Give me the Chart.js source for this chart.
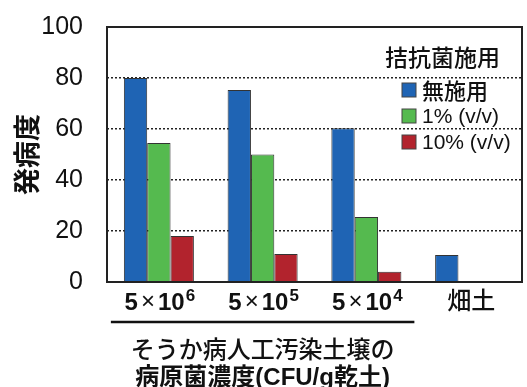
<!DOCTYPE html>
<html>
<head>
<meta charset="utf-8">
<script src="https://cdn.jsdelivr.net/npm/chart.js@4/dist/chart.umd.min.js"></script>
<style>
body { margin: 0; background: #fff; }
</style>
</head>
<body>
<canvas id="myChart" width="527" height="387"></canvas>
<script>
// data
var categories = ['5×10⁶', '5×10⁵', '5×10⁴', '畑土'];
var seriesNames = ['無施用', '1% (v/v)', '10% (v/v)'];
var noTreatment = [80, 75.3, 60.3, 10.6];
var onePercent = [54.5, 50, 25.5, 0];
var tenPercent = [18, 11, 4, 0.3];
var yTicks = [0, 20, 40, 60, 80, 100];
var legendTitle = '拮抗菌施用';
var yTitle = '発病度';
var xTitleLines = ['そうか病人工汚染土壌の', '病原菌濃度(CFU/g乾土)'];

var colors = ['#1f64b4', '#55ba4f', '#b2232d'];
var FONT = '"Liberation Sans", "Noto Sans CJK JP", sans-serif';
var CJK = '"Noto Sans CJK JP", "Liberation Sans", sans-serif';
var SUP = '⁰¹²³⁴⁵⁶⁷⁸⁹';

// category label, with the exponent drawn as a real superscript
function drawCategory(ctx, label, cx, base) {
	var m = label.match(/^(\d+)×(\d+)([⁰-⁹¹²³]+)$/);
	ctx.fillStyle = '#111';
	ctx.textBaseline = 'alphabetic';
	ctx.textAlign = 'left';
	if (!m) {
		ctx.font = '500 24px ' + CJK;
		ctx.textAlign = 'center';
		ctx.fillText(label, cx, base - 1);
		return;
	}
	var exp = m[3].split('').map(function(c) { return SUP.indexOf(c); }).join('');
	var parts = [
		{ t: m[1], f: 'bold 24px ' + FONT, dy: 0, gap: 3 },
		{ t: '×', f: '24px ' + FONT, dy: -1, gap: 3 },
		{ t: m[2], f: 'bold 24px ' + FONT, dy: 0, gap: 1 },
		{ t: exp, f: 'bold 17px ' + FONT, dy: -9, gap: 0 }
	];
	var w = 0;
	parts.forEach(function(p) {
		ctx.font = p.f;
		p.w = ctx.measureText(p.t).width;
		w += p.w + p.gap;
	});
	var x = cx - w / 2;
	parts.forEach(function(p) {
		ctx.font = p.f;
		ctx.fillText(p.t, x, base + p.dy);
		x += p.w + p.gap;
	});
}

var extras = {
	id: 'extras',
	afterDatasetsDraw: function(chart) {
		var ctx = chart.ctx;
		var a = chart.chartArea;
		var x = chart.scales.x;
		ctx.save();
		// plot frame
		ctx.strokeStyle = '#222';
		ctx.lineWidth = 2;
		ctx.strokeRect(a.left, a.top, a.right - a.left, a.bottom - a.top);

		// category labels
		categories.forEach(function(c, i) {
			drawCategory(ctx, c, x.getPixelForValue(i) + 1, a.bottom + 28);
		});

		// underline below the first three groups
		var l = x.getPixelForValue(0) - 48;
		var r = x.getPixelForValue(2) + 48;
		ctx.strokeStyle = '#111';
		ctx.lineWidth = 2.5;
		ctx.beginPath();
		ctx.moveTo(l, 322);
		ctx.lineTo(r, 322);
		ctx.stroke();

		// x title, two lines
		ctx.fillStyle = '#111';
		ctx.textAlign = 'center';
		ctx.textBaseline = 'middle';
		var cx = (l + r) / 2;
		ctx.font = '500 24px ' + CJK;
		ctx.fillText(xTitleLines[0], cx, 349);
		ctx.font = 'bold 24px ' + FONT;
		ctx.fillText(xTitleLines[1], cx, 378);

		// legend
		ctx.textAlign = 'left';
		ctx.font = '500 23px ' + CJK;
		ctx.fillText(legendTitle, a.right - 137, 57);
		for (var i = 0; i < seriesNames.length; i++) {
			var ry = 90 + i * 26;
			ctx.fillStyle = colors[i];
			ctx.fillRect(a.right - 120, ry - 7, 14, 14);
			ctx.strokeStyle = '#444';
			ctx.lineWidth = 1;
			ctx.strokeRect(a.right - 120, ry - 7, 14, 14);
			ctx.fillStyle = '#111';
			ctx.font = (i === 0 ? '500 22px ' + CJK : '21px ' + FONT);
			ctx.fillText(seriesNames[i], a.right - 100, ry + 1);
		}
		ctx.restore();
	}
};

var chart = new Chart(document.getElementById('myChart'), {
	type: 'bar',
	data: {
		labels: categories,
		datasets: [
			{ label: seriesNames[0], data: noTreatment, backgroundColor: colors[0] },
			{ label: seriesNames[1], data: onePercent, backgroundColor: colors[1] },
			{ label: seriesNames[2], data: tenPercent, backgroundColor: colors[2] }
		].map(function(d) {
			d.borderColor = '#333';
			d.borderWidth = 1;
			d.barPercentage = 1;
			d.categoryPercentage = 0.675;
			return d;
		})
	},
	options: {
		responsive: false,
		animation: false,
		layout: { padding: { top: 27, right: 5, left: 0, bottom: 0 } },
		plugins: {
			legend: { display: false },
			tooltip: { enabled: false }
		},
		scales: {
			x: {
				grid: { display: false },
				border: { display: false },
				ticks: {
					// drawn by the plugin so the exponent can be raised
					color: 'rgba(0,0,0,0)',
					maxRotation: 0,
					font: { family: FONT, size: 20, weight: 'bold' }
				},
				afterFit: function(s) { s.height = 105; }
			},
			y: {
				min: 0,
				max: 100,
				afterBuildTicks: function(axis) {
					axis.ticks = yTicks.map(function(v) { return { value: v }; });
				},
				grid: {
					drawTicks: false,
					lineWidth: 1.5,
					color: function(c) {
						var v = c.tick && c.tick.value;
						return (v === 0 || v === 100) ? 'rgba(0,0,0,0)' : '#222';
					}
				},
				border: { display: false, dash: [2, 2] },
				ticks: {
					color: '#111',
					padding: 24,
					font: { family: FONT, size: 25 }
				},
				title: {
					display: true,
					text: yTitle,
					color: '#111',
					padding: { top: 11, bottom: 0 },
					font: { family: CJK, size: 27, weight: 'bold' }
				},
				afterFit: function(s) {
					s.width = 107;
					// tick padding would otherwise push the plot top down
					s.paddingTop = 0;
					s.paddingBottom = 0;
				}
			}
		}
	},
	plugins: [extras]
});
</script>
</body>
</html>
